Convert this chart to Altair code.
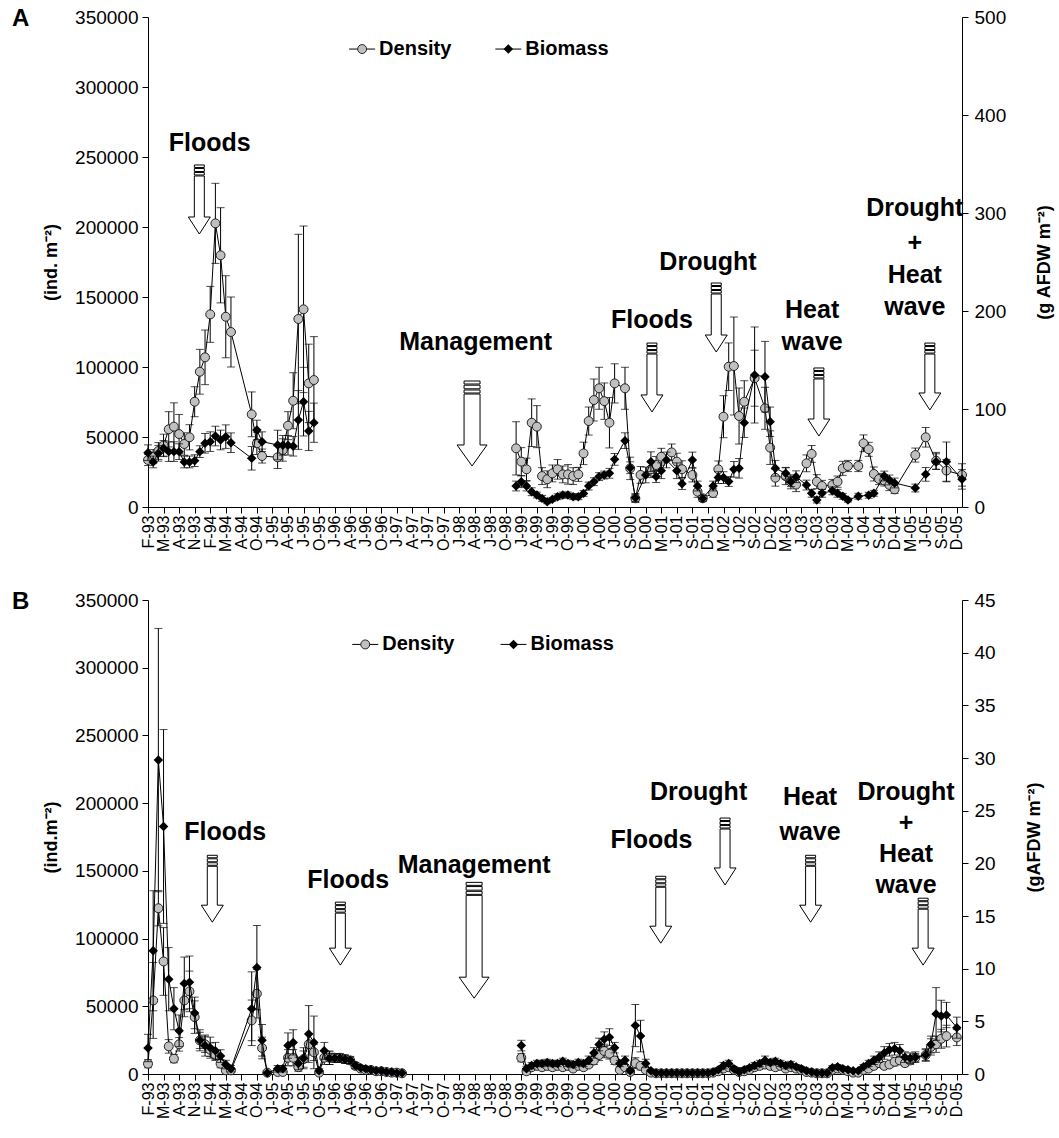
import json
import altair as alt
import pandas as pd

FONT = "Liberation Sans"

X_LABELS = ["F-93","M-93","A-93","N-93","F-94","M-94","A-94","O-94",
            "J-95","A-95","J-95","O-95","J-96","A-96","J-96","O-96",
            "J-97","A-97","J-97","O-97","J-98","A-98","J-98","O-98",
            "J-99","A-99","J-99","O-99","J-00","A-00","J-00","S-00","D-00",
            "M-01","J-01","S-01","D-01","M-02","J-02","S-02","D-02",
            "M-03","J-03","S-03","D-03","M-04","J-04","S-04","D-04",
            "M-05","J-05","S-05","D-05"]

# ---------------- Panel A ----------------
a_den_x = [0,1,2,3,4,5,6,7,8,9,10,11,12,13,14,15,16,20,21,22,25,26,27,28,29,30,31,32,
           71,72,73,74,75,76,77,78,79,80,81,82,83,84,85,86,87,88,89,90,92,93,94,95,97,98,99,
           101,102,103,105,106,107,109,110,111,112,113,114,115,117,119,120,121,123,124,125,
           127,128,129,130,132,133,134,135,137,138,139,140,141,142,143,144,148,150,152,154,157]
a_den_y = [33600,36000,40000,44000,55500,57400,52100,45000,49800,75200,96600,106900,137600,202600,
           179800,135900,125000,66200,45500,36400,35500,40700,58100,75900,134300,141200,88300,90700,
           41900,32400,26900,60200,57400,22100,19800,24000,26900,23300,23300,22100,23300,38300,61400,
           76400,84800,75600,60200,88300,84800,27600,6200,22900,27000,30000,35900,
           39000,32400,27000,22900,10900,6200,10000,26900,64500,100200,100700,65000,75200,92000,70500,
           42400,20900,22000,18000,16000,31200,37900,18100,15000,15700,18100,27600,29300,29300,45500,
           41200,23600,20000,19000,15700,12600,37100,49800,33000,26000,22900]
a_den_err = [4000,5000,6000,8000,12600,17000,14000,8000,9000,10700,16000,19500,20000,28600,
             34000,29300,25000,16000,8000,5000,8000,8000,10000,20000,60500,59500,28000,31000,
             19000,10000,8000,17000,15000,6000,6000,6000,7000,6000,7000,6000,5000,8000,10000,
             15000,15000,13000,18000,14000,15000,8000,3000,6000,6000,6000,6000,
             6000,6000,6000,5000,4000,2000,3000,6000,15000,17000,35000,20000,15000,20000,15000,
             12000,6000,6000,5000,5000,6000,6000,5000,4000,4000,4000,5000,4000,4000,6000,
             5000,5000,4000,4000,4000,3000,5000,7000,6000,8000,8000]

a_bio_x = [0,1,2,3,4,5,6,7,8,9,10,11,12,13,14,15,16,20,21,22,25,26,27,28,29,30,31,32,
           71,72,73,74,75,76,77,78,79,80,81,82,83,84,85,86,87,88,89,90,92,93,94,96,97,98,99,100,
           102,103,105,106,107,109,110,111,112,113,114,115,117,119,120,121,123,124,125,
           127,128,129,130,132,133,134,135,137,139,140,142,143,144,148,150,152,154,157]
a_bio_y = [55.4,46,54.8,59.9,56.5,56.5,56.5,46,46,47.3,56.5,65,66.7,72.4,68.4,71.8,65.6,49.7,78.6,66.7,
           63.3,63,63,62,88.8,107.5,77.6,86,
           21.4,25.8,21.4,15.6,12.2,8.8,5.4,7.8,10.5,12.2,12.2,10.5,10.5,13.9,21.4,25.8,31,32.6,34.4,
           48.6,67.7,40.1,9.5,32.7,46.3,31,37,48,
           37,23.8,48,21.4,8.8,21.4,30,30,26,38.4,39.5,86,134.7,133,87,39.5,34.4,25.8,30.9,
           22.4,14,7.1,14,16.5,14,10.9,7.1,11,12,14,31.6,27.6,24.5,19.4,33.3,46.3,46.3,28.2]
a_bio_err = [8,6,8,8,10,10,8,6,6,6,6,10,10,10,10,12,10,12,10,10,15,10,10,10,30,35,20,20,
             5,6,5,4,3,3,2,2,3,3,3,3,3,3,4,4,4,4,5,6,8,6,4,8,10,6,8,8,
             8,6,8,5,3,5,6,6,5,8,10,15,49,36,15,8,6,5,6,
             5,4,3,4,4,4,3,2,3,3,3,5,5,5,4,7,8,20,10]

# ---------------- Panel B ----------------
b_den_x = list(range(0, 17)) + [20,21,22,23] + list(range(25, 50)) + list(range(72, 149)) + [150,151,152,153,154,156]
b_den_y = [7600,54300,122400,83100,20400,11300,21900,54300,61000,42000,24800,21900,17900,14000,7600,2700,2700,
           39600,59300,19200,1000,
           1500,1500,12000,12000,5000,11000,22000,16000,1000,12000,12000,12000,12000,11000,10000,6000,4000,3000,
           3000,2000,2000,1500,1000,1000,500,
           12000,2000,5000,6000,5000,6000,5000,6000,5000,6000,4000,6000,5000,7000,10000,14000,17000,15000,10000,
           3000,5000,1500,8000,6000,3000,1000,500,500,500,500,500,500,500,500,500,500,500,1000,2000,4000,5000,
           3000,1500,2000,3000,5000,6000,7000,6000,5000,6000,4000,5000,4000,3000,1500,1000,500,500,500,3000,
           4000,3000,2000,1000,1000,3000,4000,6000,8000,6000,7000,9000,10000,8000,10000,12000,
           14000,20000,22000,26000,28000,27000]
b_den_err = [3000,28000,13000,25000,5000,3000,5000,12000,15000,12000,6000,6000,5000,4000,3000,1000,1000,
             15000,18000,8000,500,
             500,500,6000,6000,3000,6000,8000,6000,500,5000,5000,3000,3000,3000,3000,2000,1500,1000,
             1000,800,800,500,500,500,300,
             3000,1000,2000,2000,2000,2000,2000,2000,2000,2000,1500,2000,2000,2000,3000,4000,5000,4000,3000,
             1000,2000,800,4000,3000,1000,500,300,300,300,300,300,300,300,300,300,300,300,500,800,1500,2000,
             1000,800,800,1000,2000,2000,2000,2000,2000,2000,1500,2000,1500,1000,800,500,300,300,300,1000,
             1500,1000,800,500,500,1000,1500,2000,3000,2000,2000,3000,3000,2000,3000,3000,
             4000,6000,6000,7000,8000,6000]

b_bio_x = b_den_x
b_bio_y = [2.47,11.7,29.8,23.5,9.0,6.2,4.1,8.6,8.7,5.8,3.2,2.7,2.5,2.2,1.7,0.9,0.5,
           6.2,10.1,3.2,0.1,
           0.5,0.5,2.7,3.0,1.0,1.5,3.8,3.0,0.3,2.2,1.5,1.5,1.5,1.4,1.3,0.8,0.6,0.5,0.4,0.3,0.3,0.2,0.2,0.1,0.1,
           2.7,0.5,0.8,1.0,1.0,1.1,1.0,1.0,1.2,1.0,0.9,1.1,1.0,1.3,2.0,2.8,3.3,3.5,2.5,
           1.0,1.3,0.3,4.6,3.6,1.0,0.3,0.1,0.1,0.1,0.1,0.1,0.1,0.1,0.1,0.1,0.1,0.1,0.2,0.4,0.8,1.0,
           0.5,0.2,0.4,0.6,0.8,1.0,1.3,1.1,1.2,1.0,0.8,0.9,0.7,0.5,0.3,0.2,0.1,0.1,0.1,0.6,
           0.7,0.5,0.4,0.3,0.3,0.7,1.0,1.3,1.6,2.0,2.3,2.4,2.2,1.6,1.5,1.6,
           1.8,2.8,5.7,5.5,5.6,4.4]
b_bio_err = [1.3,5.7,12.5,9.2,3,2,1.5,2.5,2.5,1.5,1,1,1,0.8,0.6,0.4,0.3,
             3.5,4,1.5,0.1,
             0.3,0.3,1.2,1.2,0.6,1,2.7,2.5,0.2,0.8,0.6,0.4,0.4,0.4,0.3,0.3,0.2,0.2,0.1,0.1,0.1,0.1,0.1,0.1,0.05,
             0.5,0.2,0.3,0.3,0.3,0.3,0.3,0.3,0.3,0.3,0.3,0.3,0.3,0.4,0.5,0.6,0.7,0.8,0.5,
             0.3,0.4,0.2,2.0,1.5,0.4,0.1,0.05,0.05,0.05,0.05,0.05,0.05,0.05,0.05,0.05,0.05,0.05,0.1,0.2,0.3,0.3,
             0.2,0.1,0.2,0.2,0.3,0.3,0.4,0.3,0.3,0.3,0.3,0.3,0.2,0.2,0.1,0.1,0.05,0.05,0.05,0.2,
             0.2,0.2,0.1,0.1,0.1,0.2,0.3,0.4,0.5,0.6,0.6,0.6,0.6,0.5,0.5,0.5,
             0.6,0.8,2.5,1.5,1.2,1.0]

# ---------------- Annotations ----------------
a_text_x = [11.9, 63.2, 97.2, 108.0, 128.1, 128.1, 147.9, 147.9, 147.9, 147.9]
a_text_y = [260000, 117900, 133600, 175000, 140700, 117900, 213600, 188600, 165700, 142900]
a_text_t = ["Floods", "Management", "Floods", "Drought", "Heat", "wave", "Drought", "+", "Heat", "wave"]
a_arrow_x = [9.9, 62.5, 97.2, 109.6, 129.4, 150.8]
a_arrow_top = [244300, 90000, 117100, 160000, 99300, 117100]
a_arrow_tip = [195000, 29300, 67900, 110700, 50700, 69300]
a_arrow_big = [0, 1, 0, 0, 0, 0]

b_text_x = [14.9, 38.6, 62.9, 97.1, 106.2, 127.7, 127.7, 146.2, 146.2, 146.2, 146.2]
b_text_y = [178500, 143100, 154200, 172600, 208000, 204300, 178500, 208000, 185100, 162300, 139400]
b_text_t = ["Floods", "Floods", "Management", "Floods", "Drought", "Heat", "wave", "Drought", "+", "Heat", "wave"]
b_arrow_x = [12.4, 37.1, 62.9, 98.9, 111.3, 127.8, 149.5]
b_arrow_top = [161500, 126900, 141500, 146000, 189000, 161500, 129800]
b_arrow_tip = [112100, 80400, 56000, 96600, 139600, 112100, 80400]
b_arrow_big = [0, 0, 1, 0, 0, 0, 0]

SERIES = ["Density", "Biomass"]

X_MAX = 157
PX_PER_CAT = 5.187
PLOT_W = round(X_MAX * PX_PER_CAT)


def series_df(xs, ys, es):
    return pd.DataFrame({
        "c": xs, "v": ys,
        "lo": [max(v - e, 0) for v, e in zip(ys, es)],
        "hi": [v + e for v, e in zip(ys, es)],
        "seg": [0 if x < 60 else 1 for x in xs],
    })


def arrow_frames(xs, tops, tips, bigs, dens_per_px):
    poly, rects = [], []
    dx = 1.0 / PX_PER_CAT
    for i, (cx, top, tip, big) in enumerate(zip(xs, tops, tips, bigs)):
        hw, hh, hl, rr = (8, 15, 21, 13) if big else (5, 11, 17, 11)
        s = 1.2 if big else 1.0
        shaft_top = top - rr * dens_per_px
        head = tip + hl * dens_per_px
        pts = [(cx - hw * dx, shaft_top), (cx + hw * dx, shaft_top), (cx + hw * dx, head),
               (cx + hh * dx, head), (cx, tip), (cx - hh * dx, head), (cx - hw * dx, head),
               (cx - hw * dx, shaft_top)]
        for k, (px_, py_) in enumerate(pts):
            poly.append({"id": i, "o": k, "c": px_, "v": py_})
        for a, b in [(0, 2.5), (3.5, 6.5), (7.5, 10.0)]:
            rects.append({"c": cx - hw * dx, "c2": cx + hw * dx,
                          "v": top - a * s * dens_per_px, "v2": top - b * s * dens_per_px})
    return pd.DataFrame(poly), pd.DataFrame(rects)


def make_panel(letter, den, bio, texts, arrows, dens_per_px, height, bio_max, bio_step,
               left_title, right_title, legend_y, legend_cx):
    xscale = alt.Scale(domain=[0, X_MAX], nice=False, zero=False)
    label_expr = json.dumps(X_LABELS) + "[round(datum.value/3)]"
    xaxis = alt.Axis(values=list(range(0, 157, 3)), labelExpr=label_expr, title=None,
                     labelAngle=270, labelAlign="right", labelBaseline="middle",
                     labelFontSize=16, labelOverlap=False, labelBound=False,
                     labelPadding=2, tickSize=6, grid=False)
    X = alt.X("c:Q", scale=xscale, axis=xaxis)

    yscale = alt.Scale(domain=[0, 350000], nice=False, zero=True)
    yaxis = alt.Axis(values=list(range(0, 350001, 50000)), format="d", title=left_title,
                     orient="left", labelFontSize=19, titleFontSize=18, titleFontWeight="bold",
                     tickSize=6, grid=False, titlePadding=14, labelPadding=4)
    Y = alt.Y("v:Q", scale=yscale, axis=yaxis)

    bscale = alt.Scale(domain=[0, bio_max], nice=False, zero=True)
    baxis = alt.Axis(values=[bio_step * k for k in range(int(round(bio_max / bio_step)) + 1)],
                     format="d", title=right_title, orient="right", labelFontSize=19,
                     titleFontSize=18, titleFontWeight="bold", titleAngle=270,
                     titleBaseline="top", tickSize=6, grid=False, titlePadding=30, labelPadding=6)
    YB = alt.Y("v:Q", scale=bscale, axis=baxis)

    d_line = alt.Chart(den).mark_line(color="black", strokeWidth=1).encode(x=X, y=Y, detail="seg:N")
    d_err = alt.Chart(den).mark_rule(color="black", strokeWidth=1).encode(
        x=X, y=alt.Y("lo:Q", scale=yscale, axis=yaxis), y2="hi:Q")
    d_cap1 = alt.Chart(den).mark_tick(orient="horizontal", color="black", size=8, thickness=1).encode(
        x=X, y=alt.Y("hi:Q", scale=yscale, axis=yaxis))
    d_cap2 = alt.Chart(den).mark_tick(orient="horizontal", color="black", size=8, thickness=1).encode(
        x=X, y=alt.Y("lo:Q", scale=yscale, axis=yaxis))
    d_pts = alt.Chart(den).mark_point(shape="circle", filled=True, fill="#c0c0c0", stroke="#222222",
                                      strokeWidth=1, size=80, opacity=1).encode(x=X, y=Y)

    tdf = pd.DataFrame({"c": texts[0], "v": texts[1], "t": texts[2]})
    t_layer = alt.Chart(tdf).mark_text(font=FONT, fontSize=25, fontWeight="bold", color="black",
                                       align="center", baseline="middle").encode(x=X, y=Y, text="t:N")
    poly, rects = arrow_frames(*arrows, dens_per_px)
    a_rect = alt.Chart(rects).mark_rect(fill="white", stroke="black", strokeWidth=1).encode(
        x=X, x2="c2:Q", y=Y, y2="v2:Q")
    a_poly = alt.Chart(poly).mark_line(color="black", strokeWidth=1).encode(
        x=X, y=Y, order="o:Q", detail="id:N")

    dx = 1.0 / PX_PER_CAT
    leg = pd.DataFrame({
        "s": SERIES,
        "c": [legend_cx[0], legend_cx[1]],
        "c1": [legend_cx[0] - 13 * dx, legend_cx[1] - 13 * dx],
        "c2": [legend_cx[0] + 13 * dx, legend_cx[1] + 13 * dx],
        "ct": [legend_cx[0] + 17 * dx, legend_cx[1] + 17 * dx],
        "v": [legend_y, legend_y],
    })
    l_rule = alt.Chart(leg).mark_rule(color="black", strokeWidth=1).encode(
        x=alt.X("c1:Q", scale=xscale, axis=xaxis), x2="c2:Q", y=Y)
    l_circ = alt.Chart(leg.iloc[[0]]).mark_point(shape="circle", filled=True, fill="#c0c0c0",
                                                 stroke="#222222", strokeWidth=1, size=80,
                                                 opacity=1).encode(x=X, y=Y)
    l_dia = alt.Chart(leg.iloc[[1]]).mark_point(shape="diamond", filled=True, color="black",
                                                size=90, opacity=1).encode(x=X, y=Y)
    l_text = alt.Chart(leg).mark_text(font=FONT, fontSize=20, fontWeight="bold", align="left",
                                      baseline="middle", color="black").encode(
        x=alt.X("ct:Q", scale=xscale, axis=xaxis), y=Y, text="s:N")

    letter_df = pd.DataFrame({"t": [letter]})
    l_letter = alt.Chart(letter_df).mark_text(font=FONT, fontSize=24, fontWeight="bold", align="left",
                                              baseline="middle", color="black").encode(
        x=alt.value(-136), y=alt.value(2), text="t:N")

    left = alt.layer(d_line, d_err, d_cap1, d_cap2, d_pts, a_rect, a_poly, t_layer,
                     l_rule, l_circ, l_dia, l_text, l_letter)

    b_line = alt.Chart(bio).mark_line(color="black", strokeWidth=1).encode(x=X, y=YB, detail="seg:N")
    b_err = alt.Chart(bio).mark_rule(color="black", strokeWidth=1).encode(
        x=X, y=alt.Y("lo:Q", scale=bscale, axis=baxis), y2="hi:Q")
    b_cap1 = alt.Chart(bio).mark_tick(orient="horizontal", color="black", size=8, thickness=1).encode(
        x=X, y=alt.Y("hi:Q", scale=bscale, axis=baxis))
    b_cap2 = alt.Chart(bio).mark_tick(orient="horizontal", color="black", size=8, thickness=1).encode(
        x=X, y=alt.Y("lo:Q", scale=bscale, axis=baxis))
    b_pts = alt.Chart(bio).mark_point(shape="diamond", filled=True, color="black", size=90,
                                      opacity=1).encode(x=X, y=YB)
    right = alt.layer(b_line, b_err, b_cap1, b_cap2, b_pts)

    return alt.layer(left, right).resolve_scale(y="independent").properties(
        width=PLOT_W, height=height)


den_a = series_df(a_den_x, a_den_y, a_den_err)
bio_a = series_df(a_bio_x, a_bio_y, a_bio_err)
den_b = series_df(b_den_x, b_den_y, b_den_err)
bio_b = series_df(b_bio_x, b_bio_y, b_bio_err)

panel_a = make_panel("A", den_a, bio_a, (a_text_x, a_text_y, a_text_t),
                     (a_arrow_x, a_arrow_top, a_arrow_tip, a_arrow_big), 714.3, 490, 500, 100,
                     "(ind. m\u207b\u00b2)", "(g AFDW m\u207b\u00b2)", 327100, (41.3, 69.5))
panel_b = make_panel("B", den_b, bio_b, (b_text_x, b_text_y, b_text_t),
                     (b_arrow_x, b_arrow_top, b_arrow_tip, b_arrow_big), 737.6, 474, 45, 5,
                     "(ind.m\u207b\u00b2)", "(gAFDW m\u207b\u00b2)", 317200, (41.9, 70.5))

chart = alt.vconcat(panel_a, panel_b, spacing=38).configure_view(stroke=None).configure_axis(
    labelFont=FONT, titleFont=FONT, labelColor="black", titleColor="black",
    domainColor="black", tickColor="black", domainWidth=1, tickWidth=1
).properties(padding={"left": 12, "top": 7, "right": 5, "bottom": 5}, background="white")

chart.save("out.html", embed_options={"renderer": "svg", "actions": False})
